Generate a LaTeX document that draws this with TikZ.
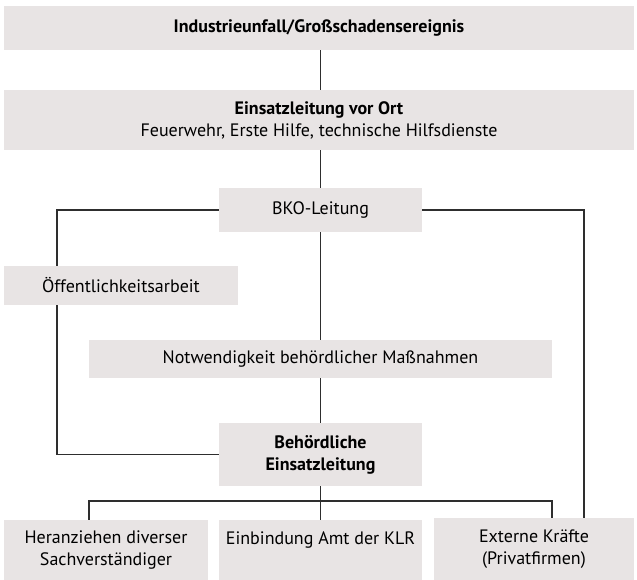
\documentclass[tikz,border=0pt]{standalone}
\usepackage{fontspec}
\setmainfont{PT Sans}
\begin{document}
\begin{tikzpicture}[x=1pt,y=-1pt,
  box/.style={fill=boxgray, draw=none, inner sep=0pt, align=center, font=\fontsize{18}{22}\selectfont},
  conn/.style={draw=linegray, line width=1.3pt}]
\definecolor{boxgray}{HTML}{E8E4E4}
\definecolor{linegray}{HTML}{2E2E2E}
\useasboundingbox (0,0) rectangle (637,580);
\node[box, minimum width=630, minimum height=44] (top) at (319,28) {\bfseries Industrieunfall/Großschadensereignis};
\node[box, minimum width=630, minimum height=60] (ort) at (319,120) {\bfseries Einsatzleitung vor Ort\\Feuerwehr, Erste Hilfe, technische Hilfsdienste};
\node[box, minimum width=203, minimum height=44] (bko) at (320.5,210) {BKO-Leitung};
\node[box, minimum width=234, minimum height=39] (oeff) at (121,285.5) {Öffentlichkeitsarbeit};
\node[box, minimum width=463, minimum height=38] (notw) at (320.5,359) {Notwendigkeit behördlicher Maßnahmen};
\node[box, minimum width=203, minimum height=63] (beh) at (320.5,454.5) {\bfseries Behördliche\\\bfseries Einsatzleitung};
\node[box, minimum width=204, minimum height=60] (sach) at (106,550) {Heranziehen diverser\\Sachverständiger};
\node[box, minimum width=203, minimum height=60] (amt) at (320.5,550) {};
\node[font=\fontsize{18}{22}\selectfont, anchor=north, inner sep=0pt] (amttext) at ([yshift=-12]amt.north) {Einbindung Amt der KLR};
\node[box, minimum width=200, minimum height=62] (ext) at (534,549) {Externe Kräfte\\(Privatfirmen)};
\coordinate (L) at (57,0);
\coordinate (R) at (584,0);
\coordinate (J) at (320.5,501);
\coordinate (XL) at (89,0);
\coordinate (XR) at (552,0);
\draw[conn] (top.south -| bko) -- (ort.north -| bko);
\draw[conn] (ort.south -| bko) -- (bko.north);
\draw[conn] (bko.west) -| (L |- oeff.north);
\draw[conn] (L |- oeff.south) |- (beh.west);
\draw[conn] (bko.east) -| (R |- ext.north);
\draw[conn] (bko.south) -- (notw.north);
\draw[conn] (notw.south) -- (beh.north);
\draw[conn] (beh.south) -- (J);
\draw[conn] (XL |- sach.north) |- (J) -| (XR |- ext.north);
\draw[conn] (J) -- (amt.north);
\end{tikzpicture}
\end{document}
